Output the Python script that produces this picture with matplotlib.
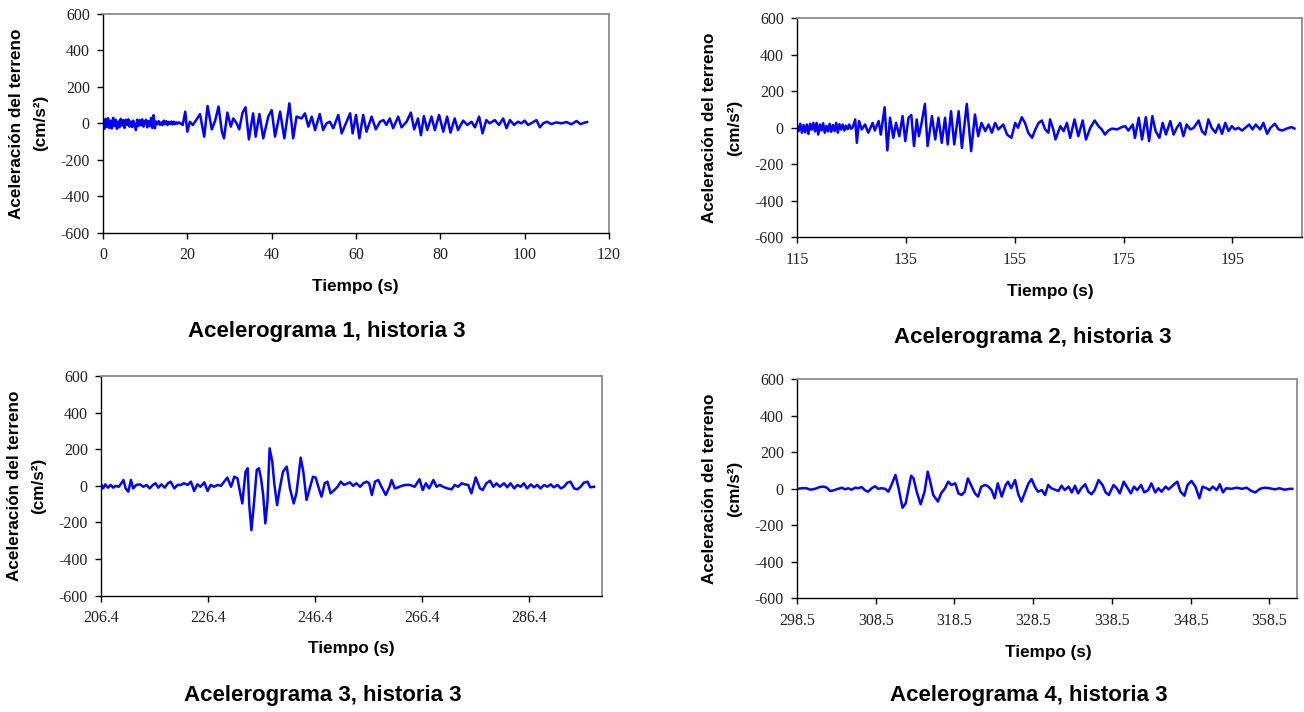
import matplotlib
matplotlib.use("Agg")
import matplotlib.pyplot as plt
from matplotlib.ticker import FixedLocator, FixedFormatter

# ---------------- data ----------------
titles = ["Acelerograma 1, historia 3", "Acelerograma 2, historia 3",
          "Acelerograma 3, historia 3", "Acelerograma 4, historia 3"]
ylabel1 = "Aceleración del terreno"
ylabel2 = "(cm/s²)"
xlabel = "Tiempo (s)"

yticks = [-600, -400, -200, 0, 200, 400, 600]

xticks1 = [0, 20, 40, 60, 80, 100, 120]
xticks2 = [115, 135, 155, 175, 195]
xticks3 = [206.4, 226.4, 246.4, 266.4, 286.4]
xticks4 = [298.5, 308.5, 318.5, 328.5, 338.5, 348.5, 358.5]
xtick_labels1 = ["0", "20", "40", "60", "80", "100", "120"]
xtick_labels2 = ["115", "135", "155", "175", "195"]
xtick_labels3 = ["206.4", "226.4", "246.4", "266.4", "286.4"]
xtick_labels4 = ["298.5", "308.5", "318.5", "328.5", "338.5", "348.5", "358.5"]
xlims = [(0, 120), (115, 207.8), (206.4, 300.0), (298.5, 362.0)]

t1 = [0.0, 0.3, 0.6, 0.9, 1.2, 1.5, 1.8, 2.1, 2.4, 2.7,
      3.0, 3.3, 3.6, 3.9, 4.2, 4.5, 4.8, 5.1, 5.4, 5.7,
      6.0, 6.3, 6.6, 6.9, 7.2, 7.5, 7.8, 8.1, 8.4, 8.7,
      9.0, 9.3, 9.6, 9.9, 10.2, 10.5, 10.8, 11.1, 11.4, 11.7,
      12.0, 12.3, 12.6, 12.9, 13.2, 13.5, 13.8, 14.1, 14.4, 14.7,
      15.0, 15.3, 15.6, 15.9, 16.2, 16.5, 16.8, 17.1, 17.4, 17.7,
      18.0, 18.4, 18.9,
      19.5, 20.0, 20.6, 21.3, 22.1, 23.0,
      24.0, 24.8, 25.8, 26.6, 27.4, 28.2, 28.7, 29.5, 30.3, 30.9,
      31.7, 32.3, 33.1, 33.8, 34.6, 35.6, 36.2, 37.1, 38.0, 39.2,
      40.0, 40.8, 42.0, 43.0, 44.2, 45.1, 45.9, 47.1, 47.9, 48.7,
      49.5, 50.3, 51.4, 52.2, 53.0, 53.8, 54.6, 55.8, 56.6,
      58.6, 59.2, 60.0, 60.8, 61.7, 62.5, 63.7, 64.7, 65.7, 66.5,
      67.2, 68.0, 68.8, 70.0, 70.8, 72.0, 73.0, 73.8, 74.7, 75.4,
      76.1, 76.9, 77.9, 78.7, 79.7, 80.7, 81.6, 82.4, 83.4, 84.2,
      85.4, 86.4, 87.4, 88.2, 89.2, 90.0, 90.9, 91.7, 92.9, 93.9,
      94.9, 95.7, 96.5, 97.5, 98.4, 99.2, 100.0, 100.8, 101.8, 102.8,
      103.6, 104.4, 105.3, 106.3, 107.5, 108.7, 109.9, 111.1, 112.3, 113.2,
      114.2, 114.8]
a1 = [10, -30, 25, -20, 28, -25, 15, -28, 30, -15,
      20, -30, 10, -22, 25, -12, 18, -25, 20, -8,
      22, -18, 10, -20, 15, -10, -37, 20, -15, 18,
      -10, 22, -18, 8, 20, -22, 12, -15, 30, -25,
      45, -27, 10, -5, 12, -8, 5, -10, 15, -5,
      12, -9, 8, -3, 10, -6, 9, -4, 6, -2,
      5, 0, -9,
      64, -46, 9, -9, 18, 51,
      -73, 95, -33, 15, 92, -46, -82, 59, -18, 27,
      0, -33, 59, 88, -88, 55, -73, 51, -82, 37,
      73, -73, 64, -82, 110, -82, 37, 27, 55, -18,
      37, -37, 51, -37, 0, 9, -27, 46, -55,
      55, -55, 46, -82, 46, -46, 37, -33, 9, 18,
      -9, 27, -27, 37, -22, 9, 59, -33, 27, -65,
      40, -37, 37, -37, 46, -46, 37, -51, 27, -37,
      15, -9, 9, -22, 37, -55, 18, 0, 18, -9,
      27, -27, 18, -9, 9, 0, 15, -9, 4, 18,
      -22, 0, 9, -4, 5, 0, 7, -5, 13, -4,
      4, 7]

t2 = [115.0, 115.3, 115.6, 115.9, 116.2, 116.5, 116.8, 117.1, 117.4, 117.7,
      118.0, 118.3, 118.6, 118.9, 119.2, 119.5, 119.8, 120.1, 120.4, 120.7,
      121.0, 121.3, 121.6, 121.9, 122.2, 122.5, 122.8, 123.1, 123.4, 123.7,
      124.0, 124.3, 124.6, 124.9, 125.2, 125.7,
      126.0, 126.4, 126.9, 127.5, 128.1, 128.9, 129.3, 130.0, 130.4, 131.1,
      131.6, 132.1, 132.7, 133.2, 133.8, 134.4, 134.9, 135.5, 136.0, 136.5,
      137.0, 137.4, 137.9, 138.5, 139.0, 139.8, 140.4, 141.0, 141.6, 142.2,
      142.7, 143.3, 143.9, 144.7, 145.3, 146.2, 147.0, 147.7, 148.3, 148.9,
      149.6, 150.2, 150.8, 151.4, 152.0, 152.9, 153.6, 154.4, 155.1, 155.6,
      156.3, 156.9, 157.5, 158.2, 158.8, 159.4, 160.0, 160.6, 161.2,
      161.5, 162.1, 162.5, 163.4, 164.0, 164.6, 165.2, 166.0, 166.7, 167.5,
      168.1, 168.9, 169.7, 170.4, 171.0, 171.6, 172.2, 172.9, 173.8, 174.7,
      175.3, 175.9, 176.7, 177.1, 177.8, 178.4, 179.1, 179.7, 180.3, 180.9,
      181.6, 182.2, 182.8, 183.6, 184.2, 184.8, 185.4, 186.0, 186.6, 187.3,
      187.9, 188.8, 189.4, 190.0, 190.6, 191.2, 191.9, 192.5, 193.1, 193.7,
      194.3, 194.9, 195.5, 196.1, 196.8, 197.4, 198.1, 198.7, 199.3, 200.1,
      200.7, 201.4, 202.0, 202.8, 203.5, 204.2, 205.0, 205.9, 206.4]
a2 = [9, -18, 22, -27, 15, -25, 18, -33, 22, -10,
      27, -20, 27, -37, 18, -15, 25, -27, 10, -20,
      22, -22, 15, -18, 27, -27, 20, -10, 18, -15,
      12, -8, 18, -5, 0, 46,
      -82, 37, -9, 18, -27, 27, -15, 37, -37, 113,
      -124, 55, -55, 27, -46, 64, -73, 55, 70, -100,
      46, -46, 27, 131, -100, 64, -64, 55, -82, 55,
      -91, 91, -91, 91, -110, 131, -128, 73, -46, 27,
      -18, 18, -27, 27, -9, 18, -37, -55, 27, 0,
      58, 27, -27, -55, -9, 27, 40, -9, -27,
      46, -9, -64, 9, -18, 27, -55, 46, -46, 40,
      -64, 0, 40, 9, -9, -37, -15, -4, -9, 4,
      9, -15, 18, -55, 55, -64, 58, -73, 64, -18,
      -55, 27, -37, 37, -37, 0, 27, -46, 18, -9,
      0, 40, -18, -37, 46, 0, -27, 18, -33, 27,
      -18, 9, -9, 0, -15, 0, 18, -9, 18, -9,
      27, -33, 0, 22, -9, -15, -4, 4, -4]

t3 = [206.5, 206.8, 207.2, 207.7, 208.2, 208.7, 209.1, 209.7, 210.2, 210.6,
      211.0, 211.5, 212.0, 212.4, 213.0, 213.7, 214.3, 214.9, 215.5, 216.1,
      216.6, 217.1, 217.7, 218.3, 218.9, 219.4, 220.1, 220.7, 221.3, 221.9,
      222.6, 223.2, 223.8, 224.4, 225.0, 225.7, 226.3, 226.9, 227.5, 228.2,
      228.8, 229.4, 230.0, 230.7, 231.3, 231.9, 232.3, 232.8, 233.4, 233.8,
      234.1, 234.5, 235.0, 235.5, 235.9, 236.3, 236.7, 237.1, 237.5, 237.9,
      238.4, 238.8, 239.3, 239.8, 240.4, 241.1, 241.7, 242.4, 242.9, 243.4,
      243.7, 244.2, 244.8, 245.4, 246.0, 246.5, 247.1, 247.6, 248.2, 248.7,
      249.3, 250.0, 250.6, 251.2, 251.8,
      252.9, 253.5, 254.1, 254.8, 255.4, 256.0, 256.5, 257.0, 257.6, 258.2,
      258.8, 259.6, 260.3, 260.7, 261.3, 261.9, 262.6, 263.2, 264.1, 265.0,
      265.9, 266.5, 267.1, 267.7, 268.5, 269.1, 269.7, 270.3, 271.1, 271.9,
      272.5, 273.1, 273.8, 274.4, 275.0, 275.6, 276.4, 277.2, 277.7, 278.4,
      279.1, 279.7, 280.3, 280.9, 281.7, 282.3, 282.9, 283.6, 284.2, 284.8,
      285.4, 286.0, 286.7, 287.3, 287.9, 288.5, 289.2, 289.8, 290.4, 291.0,
      291.7, 292.3, 292.9, 293.5, 294.1, 294.8, 295.4, 296.0, 296.6, 297.3,
      297.8, 298.5]
a3 = [5, -14, 8, -10, 5, -10, 0, -5, 14, 32,
      -14, -32, 32, -14, 5, 8, -5, 5, -14, 5,
      14, -10, 8, -10, 14, 23, -14, 5, 5, 14,
      5, 23, -28, 8, -5, 19, -28, 5, -5, 5,
      0, 23, 45, -5, 50, 41, -23, -96, 77, 96,
      -105, -242, -87, 87, 96, 41, -50, -205, -87, 205,
      132, 5, -105, -14, 77, 105, -14, -96, -41, 77,
      154, 77, -77, -14, 50, 45, -14, -59, 14, 23,
      -41, -23, -5, 23, 5,
      19, 0, 14, -5, 14, 23, 14, -50, 23, 32,
      -5, -50, -5, 32, -14, -8, 0, 5, 5, -5,
      36, -23, 14, -14, 32, -5, 5, -5, -14, -19,
      5, -5, 14, 8, 5, -41, 46, -14, -23, 14,
      28, -5, 14, -5, 14, -8, 14, -14, 5, -5,
      14, -14, 8, -8, 5, -14, 5, -5, 8, -8,
      5, -14, -5, 17, 23, -14, -19, -5, 17, 23,
      -8, -5]

t4 = [298.6, 299.1, 299.7, 300.2, 300.8, 301.4, 301.9, 302.3, 302.7, 303.1,
      303.5, 304.2, 304.6, 305.0, 305.4, 305.9, 306.3, 306.7, 307.1, 307.5,
      308.0, 308.4, 308.8, 309.2, 309.7, 310.1, 310.5, 311.0, 311.4, 311.9,
      312.3, 312.6, 313.0, 313.3, 313.7, 314.2, 314.7, 315.1, 315.4, 315.8,
      316.4, 316.8, 317.3, 317.7, 318.1, 318.6, 319.0, 319.4, 319.8, 320.2,
      320.7, 321.1, 321.5, 321.9, 322.4, 322.8, 323.2, 323.6, 324.0, 324.5,
      325.0, 325.3, 325.7, 326.2, 326.6, 327.0, 327.4, 327.9, 328.3, 328.7,
      329.1, 329.6, 330.0, 330.4, 330.8,
      331.7, 332.1, 332.5, 333.0, 333.4, 333.8, 334.2, 334.6, 335.1, 335.5,
      335.9, 336.3, 336.8, 337.3, 337.7, 338.1, 338.7, 339.1, 339.5, 340.0,
      340.5, 340.9, 341.3, 341.7, 342.2, 342.6, 343.1, 343.5, 344.0, 344.4,
      344.8, 345.3, 345.7, 346.3, 346.8, 347.2, 347.7, 348.1, 348.6, 349.1,
      349.6, 350.0, 350.5, 350.9, 351.3, 351.8, 352.2, 352.6, 353.0, 353.7,
      354.3, 355.0, 355.6, 356.2, 356.7, 357.3, 357.9, 358.5, 359.2, 359.8,
      360.4, 361.1, 361.4]
a4 = [0, 3, 3, -5, 0, 10, 12, 6, -12, -9,
      -3, 6, -3, 3, -5, 6, 3, 10, -7, -16,
      3, 14, 0, 3, 0, -16, 21, 76, 3, -104,
      -80, -16, 72, 57, -16, -85, -16, 94, 43, -34,
      -70, -25, 3, 39, 21, 30, -25, -34, -16, 57,
      12, -25, -43, 12, 21, 12, -7, -52, 30, -43,
      21, 39, 3, 48, -30, -70, -25, 30, 53, 12,
      -16, -7, -34, 21, 3,
      -12, 17, -7, 12, -20, 17, -25, 3, 25, -16,
      -30, -7, 48, 21, -20, -34, 21, 3, -25, 39,
      3, -25, 12, -7, 21, -20, -7, 30, -20, 3,
      -16, 12, -3, 21, 39, -16, -38, 21, 43, 12,
      -52, 12, 3, -7, 12, -7, 25, -20, 3, 0,
      6, 0, 6, -12, -20, 0, 6, 3, -3, 3,
      -5, 0, 0]

series = [(t1, a1), (t2, a2), (t3, a3), (t4, a4)]
xticks_all = [(xticks1, xtick_labels1), (xticks2, xtick_labels2),
              (xticks3, xtick_labels3), (xticks4, xtick_labels4)]

# ---------------- layout ----------------
W, H = 1304, 712
fig = plt.figure(figsize=(W / 100, H / 100), dpi=100)
fig.patch.set_facecolor("white")

# axes boxes in pixels: left, top, right, bottom
boxes = [(103, 14, 609, 232.7), (797, 18.3, 1302, 237.3),
         (101, 376, 602, 595.7), (797, 379.3, 1297, 598.3)]
xlabel_pos = [(355, 287), (1050, 291.5), (351, 649), (1048, 652.5)]
title_pos = [(326.5, 332), (1033, 338), (322.5, 695), (1029, 696)]
ylab_x = [(16.5, 41), (710, 735), (14.5, 39), (710, 735)]

serif = ["Liberation Serif", "DejaVu Serif"]
sans = ["Liberation Sans", "DejaVu Sans"]

for i in range(4):
    l, t, r, b = boxes[i]
    ax = fig.add_axes([l / W, 1 - b / H, (r - l) / W, (b - t) / H])
    tt, aa = series[i]
    ax.plot(tt, aa, color="#0000FF", lw=1.8, solid_joinstyle="round")
    ax.set_xlim(*xlims[i])
    ax.set_ylim(-600, 600)
    ax.yaxis.set_major_locator(FixedLocator(yticks))
    ax.yaxis.set_major_formatter(FixedFormatter([str(v) for v in yticks]))
    xt, xl = xticks_all[i]
    ax.xaxis.set_major_locator(FixedLocator(xt))
    ax.xaxis.set_major_formatter(FixedFormatter(xl))
    ax.tick_params(direction="out", length=4.5, width=1.0, color="black",
                   labelsize=11.5, labelcolor="#222222")
    ax.tick_params(axis="x", pad=6)
    ax.tick_params(axis="y", pad=5)
    for lab in ax.get_xticklabels() + ax.get_yticklabels():
        lab.set_family(serif)
    for side in ("left", "bottom"):
        ax.spines[side].set_color("black")
        ax.spines[side].set_linewidth(1.0)
    for side in ("top", "right"):
        ax.spines[side].set_color("#8c8c8c")
        ax.spines[side].set_linewidth(1.3)

    cy = 1 - ((t + b) / 2) / H
    fig.text(ylab_x[i][0] / W, cy, ylabel1, rotation=90, ha="center", va="center",
             fontsize=12.3, fontweight="bold", family=sans)
    fig.text(ylab_x[i][1] / W, cy, ylabel2, rotation=90, ha="center", va="center",
             fontsize=12.3, fontweight="bold", family=sans)
    fig.text(xlabel_pos[i][0] / W, 1 - xlabel_pos[i][1] / H, xlabel,
             ha="center", va="center", fontsize=12.3, fontweight="bold", family=sans)
    fig.text(title_pos[i][0] / W, 1 - title_pos[i][1] / H, titles[i],
             ha="center", va="center", fontsize=16, fontweight="bold", family=sans)

fig.savefig("out.png", dpi=100, facecolor="white")
